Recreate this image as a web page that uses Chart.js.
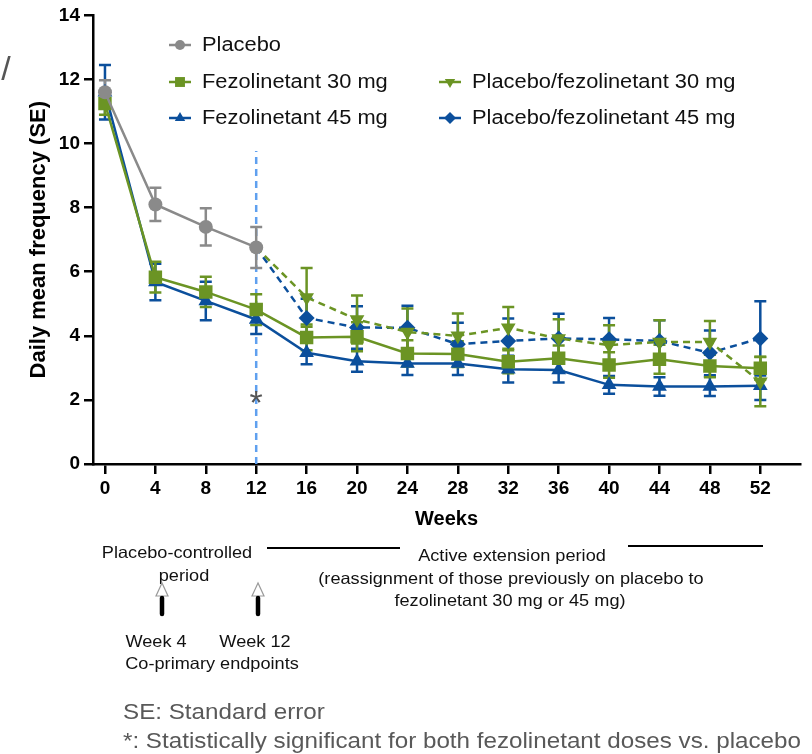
<!DOCTYPE html>
<html><head><meta charset="utf-8">
<script src="https://cdn.jsdelivr.net/npm/chart.js@4.4.1/dist/chart.umd.min.js"></script>
<style>
html,body{margin:0;padding:0;background:#fff;}
#wrap{position:relative;width:812px;height:754px;overflow:hidden;font-family:"Liberation Sans",Arial,sans-serif;}
#c{position:absolute;left:0;top:0;}
.t{position:absolute;white-space:nowrap;color:#111;font-size:16.5px;line-height:1;transform:translate(-50%,-50%) scaleX(1.1);}
.f{position:absolute;white-space:nowrap;color:#595959;font-size:22px;line-height:1;transform:translateY(-50%) scaleX(1.1);transform-origin:left center;left:123px;}
.ln{position:absolute;height:2px;background:#000;}
</style></head><body>
<div id="wrap">
<canvas id="c" width="812" height="754"></canvas>
<div class="t" style="left:6px;top:68px;color:#555;font-size:34px;transform:translate(-50%,-50%);">/</div>
<div class="t" style="left:177px;top:552px;">Placebo-controlled</div>
<div class="t" style="left:184px;top:575px;">period</div>
<div class="ln" style="left:267px;top:547px;width:133px;"></div>
<div class="ln" style="left:628px;top:545px;width:135px;"></div>
<div class="t" style="left:512px;top:555px;">Active extension period</div>
<div class="t" style="left:511px;top:578px;">(reassignment of those previously on placebo to</div>
<div class="t" style="left:510px;top:600px;">fezolinetant 30 mg or 45 mg)</div>
<svg style="position:absolute;left:0;top:0" width="812" height="754">
  <polygon points="162,583 156,596 168,596" fill="#fff" stroke="#9a9a9a" stroke-width="1.2"/>
  <line x1="162" y1="598" x2="162" y2="614" stroke="#000" stroke-width="4.5" stroke-linecap="round"/>
  <polygon points="258,583 252,596 264,596" fill="#fff" stroke="#9a9a9a" stroke-width="1.2"/>
  <line x1="258" y1="598" x2="258" y2="614" stroke="#000" stroke-width="4.5" stroke-linecap="round"/>
</svg>
<div class="t" style="left:156px;top:641px;">Week 4</div>
<div class="t" style="left:255px;top:641px;">Week 12</div>
<div class="t" style="left:212px;top:663px;">Co-primary endpoints</div>
<div class="f" style="top:712px;">SE: Standard error</div>
<div class="f" style="top:741px;">*: Statistically significant for both fezolinetant doses vs. placebo</div>
</div>
<script>
const weeks = [0,4,8,12,16,20,24,28,32,36,40,44,48,52];
const xTickValues = [0,4,8,12,16,20,24,28,32,36,40,44,48,52];
const yTickValues = [0,2,4,6,8,10,12,14];

const placebo   = [11.6, 8.1, 7.4, 6.76];
const placeboSE = [0.38, 0.52, 0.58, 0.64];

const fez30   = [11.25, 5.83, 5.37, 4.82, 3.95, 3.97, 3.45, 3.43, 3.19, 3.30, 3.09, 3.27, 3.06, 2.99];
const fez30SE = [0.35, 0.48, 0.47, 0.48, 0.40, 0.45, 0.41, 0.40, 0.36, 0.40, 0.40, 0.45, 0.35, 0.36];

const fez45   = [11.6, 5.68, 5.09, 4.51, 3.47, 3.21, 3.14, 3.14, 2.96, 2.93, 2.47, 2.42, 2.42, 2.44];
const fez45SE = [0.85, 0.57, 0.60, 0.45, 0.36, 0.33, 0.36, 0.36, 0.42, 0.39, 0.28, 0.29, 0.30, 0.44];

const pboFez30   = [null, null, null, 6.76, 5.20, 4.51, 4.12, 4.00, 4.25, 3.92, 3.71, 3.81, 3.81, 2.57];
const pboFez30SE = [null, null, null, null, 0.92, 0.75, 0.73, 0.70, 0.65, 0.60, 0.62, 0.68, 0.65, 0.77];

const pboFez45   = [null, null, null, 6.76, 4.56, 4.26, 4.25, 3.74, 3.84, 3.92, 3.89, 3.84, 3.47, 3.92];
const pboFez45SE = [null, null, null, null, 0.60, 0.66, 0.69, 0.67, 0.70, 0.77, 0.67, 0.65, 0.70, 1.16];

const switchWeek = 12;
const switchLineTop = 9.77;
const asteriskWeek = 12;
const asteriskValue = 2.05;

const FONT = '"Liberation Sans", Arial, sans-serif';
const GRAY = '#8a8a8a', GREEN = '#6b9424', BLUE = '#0b4f9c', LIGHTBLUE = '#5fa0ef';

function pts(vals){ return vals.map((v,i)=>({x:weeks[i], y:v})); }

const series = [
  {label:'Placebo', vals:placebo, se:placeboSE, color:GRAY, style:'circle', rot:0, r:7, dash:[], skipFirst:false, legend:[180,45], lr:5},
  {label:'Fezolinetant 30 mg', vals:fez30, se:fez30SE, color:GREEN, style:'rect', rot:0, r:9.5, dash:[], skipFirst:false, legend:[180,82], lr:7},
  {label:'Placebo/fezolinetant 30 mg', vals:pboFez30, se:pboFez30SE, color:GREEN, style:'triangle', rot:180, r:8.5, dash:[7,5], skipFirst:true, legend:[450,82], lr:6},
  {label:'Fezolinetant 45 mg', vals:fez45, se:fez45SE, color:BLUE, style:'triangle', rot:0, r:8.5, dash:[], skipFirst:false, legend:[180,118], lr:6},
  {label:'Placebo/fezolinetant 45 mg', vals:pboFez45, se:pboFez45SE, color:BLUE, style:'rectRot', rot:0, r:8, dash:[7,5], skipFirst:true, legend:[450,118], lr:6}
];

const datasets = series.map(s=>({
  label:s.label,
  data:pts(s.vals),
  borderColor:s.color,
  backgroundColor:s.color,
  borderWidth:2.5,
  borderDash:s.dash,
  pointStyle:s.style,
  pointRotation:s.rot,
  pointRadius: ctx => (s.skipFirst && ctx.dataIndex===3) ? 0 : s.r,
  pointBorderWidth:0,
  pointBackgroundColor:s.color,
  tension:0,
  spanGaps:false,
  fill:false
}));

const errorPlugin = {
  id:'errors',
  beforeDatasetsDraw(chart){
    const {ctx, scales:{x,y}} = chart;
    ctx.save();
    ctx.strokeStyle = LIGHTBLUE; ctx.lineWidth = 2.5; ctx.setLineDash([7,5]);
    ctx.beginPath();
    const sx = x.getPixelForValue(switchWeek);
    ctx.moveTo(sx, y.getPixelForValue(0)); ctx.lineTo(sx, y.getPixelForValue(switchLineTop));
    ctx.stroke();
    ctx.restore();
    ctx.save();
    ctx.lineWidth = 2.5; ctx.setLineDash([]);
    const cap = 6;
    for (let k = series.length-1; k >= 0; k--){
      const s = series[k];
      ctx.strokeStyle = s.color;
      s.vals.forEach((v,i)=>{
        const e = s.se[i];
        if (v==null || e==null) return;
        const px = x.getPixelForValue(weeks[i]);
        const yt = y.getPixelForValue(v+e), yb = y.getPixelForValue(v-e);
        ctx.beginPath();
        ctx.moveTo(px, yt); ctx.lineTo(px, yb);
        ctx.moveTo(px-cap, yt); ctx.lineTo(px+cap, yt);
        ctx.moveTo(px-cap, yb); ctx.lineTo(px+cap, yb);
        ctx.stroke();
      });
    }
    ctx.restore();
  },
  afterDraw(chart){
    const {ctx, scales:{x,y}} = chart;
    ctx.save();
    ctx.fillStyle = '#555';
    ctx.font = '34px ' + FONT;
    ctx.textAlign = 'center'; ctx.textBaseline = 'middle';
    ctx.fillText('*', x.getPixelForValue(asteriskWeek), y.getPixelForValue(asteriskValue)+6);
    ctx.restore();
    series.forEach(s=>{
      const [mx,my] = s.legend;
      ctx.save();
      ctx.strokeStyle = s.color; ctx.fillStyle = s.color; ctx.lineWidth = 2.5;
      ctx.beginPath(); ctx.moveTo(mx-11,my); ctx.lineTo(mx+11,my); ctx.stroke();
      Chart.helpers.drawPoint(ctx, {pointStyle:s.style, rotation:s.rot, radius:s.lr, borderWidth:0}, mx, my);
      ctx.fillStyle = '#111';
      ctx.font = '19.5px ' + FONT;
      ctx.textBaseline = 'middle'; ctx.textAlign = 'left';
      ctx.translate(mx+22, my+1);
      ctx.scale(1.12,1);
      ctx.fillText(s.label, 0, 0);
      ctx.restore();
    });
  }
};

new Chart(document.getElementById('c'), {
  type:'line',
  data:{datasets},
  plugins:[errorPlugin],
  options:{
    responsive:false, animation:false, devicePixelRatio:1,
    layout:{padding:{left:0,right:12,top:13,bottom:223}},
    plugins:{legend:{display:false}, tooltip:{enabled:false}},
    elements:{line:{borderCapStyle:'butt'}},
    scales:{
      x:{
        type:'linear', min:-0.95, max:55.15,
        afterBuildTicks: s => { s.ticks = xTickValues.map(v=>({value:v})); },
        afterFit: s => { s.height = 67; },
        grid:{drawOnChartArea:false, drawTicks:true, tickLength:10, color:'#000', lineWidth:2.5},
        border:{display:true, color:'#000', width:2.5},
        ticks:{font:{family:FONT, size:19, weight:'bold'}, color:'#000', padding:3, maxRotation:0, autoSkip:false},
        title:{display:true, text:'Weeks', color:'#000', font:{family:FONT, size:20, weight:'bold'}, padding:0}
      },
      y:{
        type:'linear', min:0, max:14,
        afterBuildTicks: s => { s.ticks = yTickValues.map(v=>({value:v})); },
        afterFit: s => { s.width = 93; },
        grid:{drawOnChartArea:false, drawTicks:true, tickLength:9, color:'#000', lineWidth:2.5},
        border:{display:true, color:'#000', width:2.5},
        ticks:{font:{family:FONT, size:19, weight:'bold'}, color:'#000', padding:4},
        title:{display:true, text:'Daily mean frequency (SE)', color:'#000', font:{family:FONT, size:22, weight:'bold'}, padding:{top:26,bottom:0}}
      }
    }
  }
});
</script>
</body></html>
